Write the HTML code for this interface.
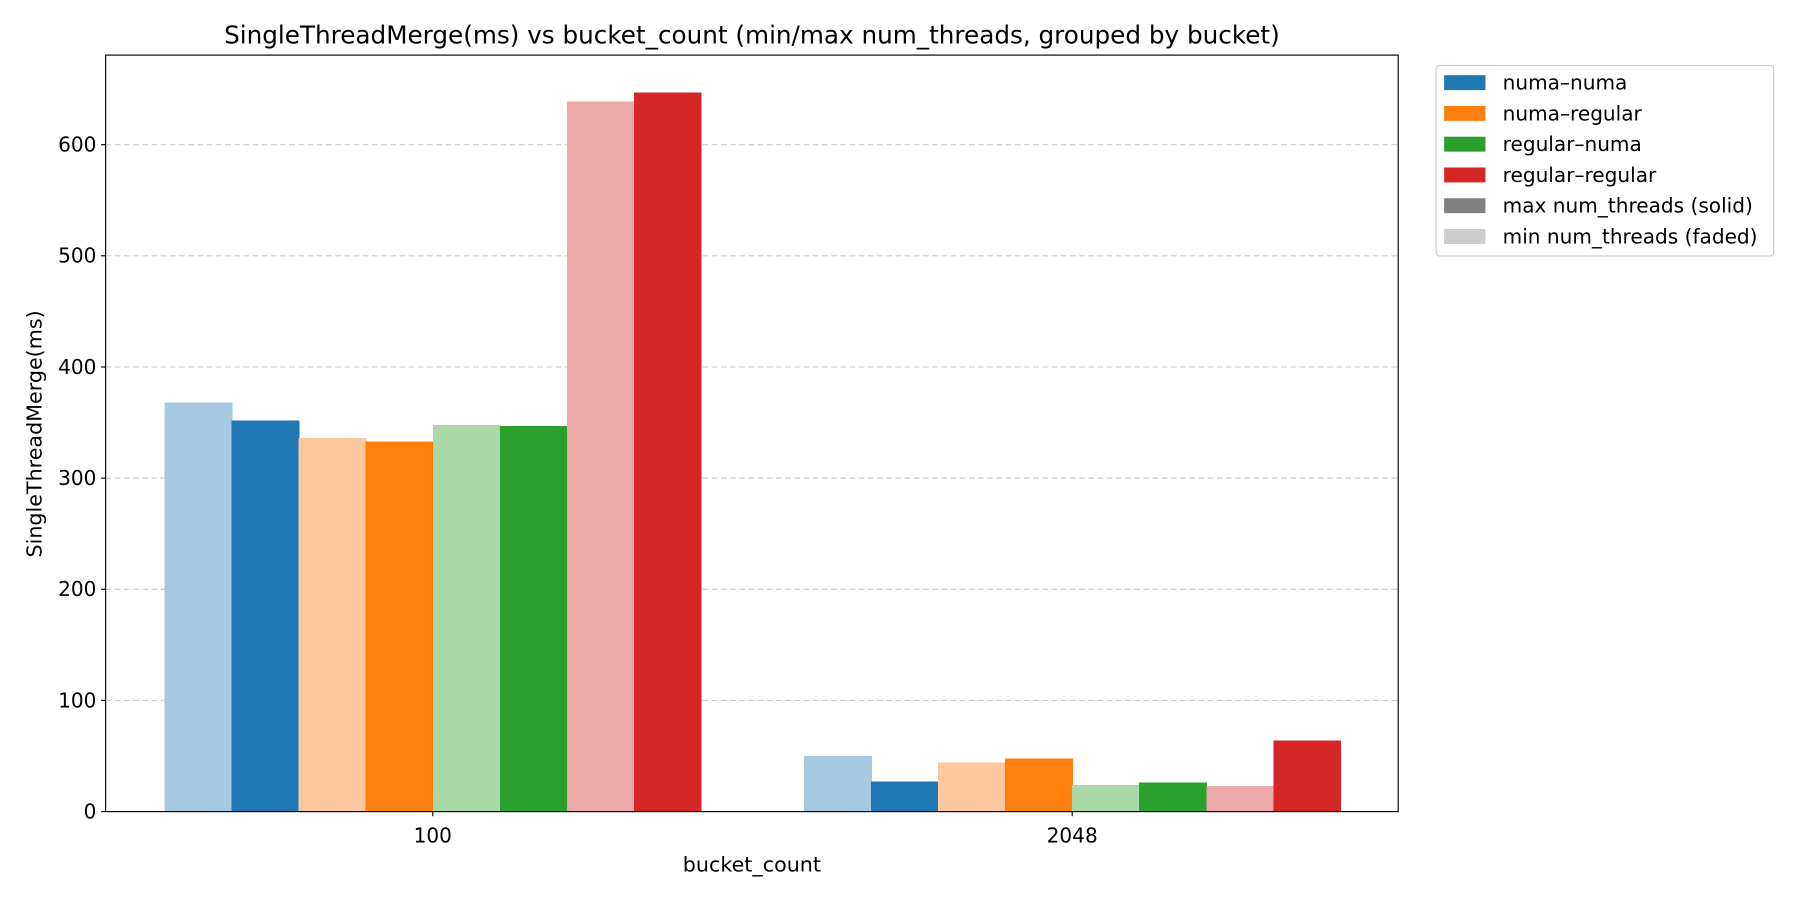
<!DOCTYPE html>
<html><head><meta charset="utf-8"><style>
html,body{margin:0;padding:0;background:#fff;}
svg{display:block;font-family:"DejaVu Sans","Liberation Sans",sans-serif;}
</style></head><body>
<svg id="chart" width="1800" height="900" viewBox="0 0 1568 784" xmlns="http://www.w3.org/2000/svg">
<rect width="1568" height="784" fill="#fff"/>
<text x="655" y="38" text-anchor="middle" font-size="21.5" fill="#000">SingleThreadMerge(ms) vs bucket_count (min/max num_threads, grouped by bucket)</text>
<g id="grid"></g>
<g id="bars" shape-rendering="crispEdges"></g>
<rect x="92" y="48" width="1126" height="659" fill="none" stroke="#000" stroke-width="1"/>
<g id="yticks"></g>
<g id="xticks"></g>
<text x="655" y="759" text-anchor="middle" font-size="18" fill="#000">bucket_count</text>
<text transform="translate(36,378) rotate(-90)" text-anchor="middle" font-size="18" fill="#000">SingleThreadMerge(ms)</text>
<g id="legend"></g>
</svg>
<script>
const categories = ["100", "2048"];
const seriesNames = ["numa–numa", "numa–regular", "regular–numa", "regular–regular"];
const minThreadsValues = [[368, 50], [336, 44], [348, 24], [639, 23]];
const maxThreadsValues = [[352, 27], [333, 48], [347, 26], [647, 64]];
const yTicks = [0, 100, 200, 300, 400, 500, 600];

const NS = "http://www.w3.org/2000/svg";
const solid = ["#1f77b4", "#ff7f0e", "#2ca02c", "#d62728"];
const faded = ["#a6c8e1", "#fec89e", "#aad9a7", "#eda9a9"];
const plotL = 92, plotR = 1218, plotB = 707;
const yScale = v => plotB - v * (581 / 600);
const xScale = i => 377 + 557 * i;
const barW = 58.4;
function mk(tag, attrs, parent) { const e = document.createElementNS(NS, tag); for (const k in attrs) e.setAttribute(k, attrs[k]); parent.appendChild(e); return e; }

const grid = document.getElementById("grid"), yt = document.getElementById("yticks");
yTicks.forEach(t => {
  const y = yScale(t);
  if (t > 0) {
    const gl = mk("line", {x1: plotL, x2: plotR, y1: y, y2: y, stroke: "#ccc", "stroke-dasharray": "5,3", "stroke-width": 1}, grid);
    
    
  }
  mk("line", {x1: plotL - 4, x2: plotL, y1: y, y2: y, stroke: "#000"}, yt);
  const tx = mk("text", {x: plotL - 8, y: y + 6, "text-anchor": "end", "font-size": 17.5}, yt);
  tx.textContent = t;
  
  
});

const bars = document.getElementById("bars"), xt = document.getElementById("xticks");
categories.forEach((c, i) => {
  const cx = xScale(i);
  const start = cx - 4 * barW;
  for (let s = 0; s < seriesNames.length; s++) {
    const vals = [minThreadsValues[s][i], maxThreadsValues[s][i]];
    vals.forEach((v, k) => {
      const x = start + (2 * s + k) * barW;
      const r = mk("rect", {x: x, y: yScale(v), width: barW + 0.6, height: plotB - yScale(v), fill: k === 0 ? faded[s] : solid[s]}, bars);
      
      
    });
  }
  mk("line", {x1: cx, x2: cx, y1: plotB, y2: plotB + 4, stroke: "#000"}, xt);
  const tx = mk("text", {x: cx, y: plotB + 27, "text-anchor": "middle", "font-size": 17.5}, xt);
  tx.textContent = c;
  
  
});

const lg = document.getElementById("legend");
mk("rect", {x: 1251, y: 57, width: 294, height: 166, rx: 3, fill: "#fff", stroke: "#ccc"}, lg);
const legItems = seriesNames.concat(["max num_threads (solid)", "min num_threads (faded)"]);
const legColors = solid.concat(["#808080", "#cccccc"]);
legItems.forEach((n, i) => {
  const y = 72 + i * 26.8;
  const g = mk("g", {}, lg);
  
  
  mk("rect", {x: 1258, y: y - 6.5, width: 36, height: 13, fill: legColors[i]}, g);
  const t = mk("text", {x: 1309, y: y + 6, "font-size": 17.5}, g);
  t.textContent = n;
});
</script>
</body></html>
